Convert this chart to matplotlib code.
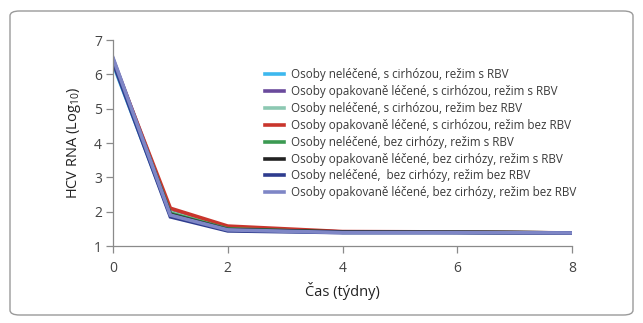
import matplotlib
matplotlib.use("Agg")
import matplotlib.pyplot as plt
from matplotlib.patches import FancyBboxPatch

weeks = [0, 1, 2, 4, 6, 8]

series_labels = [
    "Osoby neléčené, s cirhózou, režim s RBV",
    "Osoby opakovaně léčené, s cirhózou, režim s RBV",
    "Osoby neléčené, s cirhózou, režim bez RBV",
    "Osoby opakovaně léčené, s cirhózou, režim bez RBV",
    "Osoby neléčené, bez cirhózy, režim s RBV",
    "Osoby opakovaně léčené, bez cirhózy, režim s RBV",
    "Osoby neléčené,  bez cirhózy, režim bez RBV",
    "Osoby opakovaně léčené, bez cirhózy, režim bez RBV",
]

# mean log10 HCV RNA per week for each group
naive_cirr_rbv = [6.30, 1.90, 1.47, 1.40, 1.40, 1.38]
exp_cirr_rbv = [6.45, 2.00, 1.52, 1.41, 1.40, 1.38]
naive_cirr_norbv = [6.35, 1.98, 1.52, 1.40, 1.40, 1.38]
exp_cirr_norbv = [6.40, 2.10, 1.58, 1.42, 1.41, 1.38]
naive_nocirr_rbv = [6.38, 1.95, 1.50, 1.40, 1.40, 1.38]
exp_nocirr_rbv = [6.42, 1.92, 1.48, 1.41, 1.40, 1.38]
naive_nocirr_norbv = [6.35, 1.85, 1.44, 1.39, 1.39, 1.38]
exp_nocirr_norbv = [6.48, 1.90, 1.47, 1.39, 1.39, 1.38]

series_values = [naive_cirr_rbv, exp_cirr_rbv, naive_cirr_norbv, exp_cirr_norbv,
                 naive_nocirr_rbv, exp_nocirr_rbv, naive_nocirr_norbv, exp_nocirr_norbv]
colors = ["#3db8ee", "#6a4a9c", "#8cc8b2", "#c9352c",
          "#3b9a52", "#222222", "#2e3c8e", "#7e86c6"]

x_ticks = [0, 2, 4, 6, 8]
y_ticks = [1, 2, 3, 4, 5, 6, 7]

plt.rcParams['font.family'] = ['Open Sans', 'DejaVu Sans']
plt.rcParams['mathtext.fontset'] = 'custom'
plt.rcParams['mathtext.rm'] = 'Open Sans'

fig = plt.figure(figsize=(6.43, 3.23), dpi=100)

# rounded frame around the whole chart
frame = FancyBboxPatch((10 / 643, 8 / 323), 623 / 643, 304 / 323,
                       boxstyle="round,pad=0,rounding_size=0.015",
                       transform=fig.transFigure, fill=False,
                       edgecolor="#9a9a9a", linewidth=1.0)
fig.patches.append(frame)

ax = fig.add_axes([113 / 643, 1 - 246 / 323, (572 - 113) / 643, (246 - 40) / 323])

for vals, col, lab in zip(series_values, colors, series_labels):
    ax.plot(weeks, vals, color=col, linewidth=2.6, label=lab, solid_joinstyle="miter")

ax.set_xlim(0, 8)
ax.set_ylim(1, 7)
ax.set_xticks(x_ticks)
ax.set_yticks(y_ticks)

for side in ["top", "right"]:
    ax.spines[side].set_visible(False)
for side in ["left", "bottom"]:
    ax.spines[side].set_color("#8a8a8a")
    ax.spines[side].set_linewidth(0.9)
ax.tick_params(axis="both", colors="#8a8a8a", labelcolor="#444444",
               labelsize=10, length=5, width=0.9, direction="out")
ax.tick_params(axis="x", pad=6)
ax.tick_params(axis="y", pad=3)

ax.set_xlabel("Čas (týdny)", fontsize=10.5, color="#222222", labelpad=4)
ax.set_ylabel("HCV RNA (Log$_{\\mathrm{10}}$)", fontsize=10.5, color="#222222", labelpad=8)

leg = ax.legend(loc="upper left", bbox_to_anchor=(0.32, 0.885), frameon=False,
                fontsize=8.4, handlelength=1.7, handletextpad=0.6,
                labelspacing=0.33, borderaxespad=0)
for txt in leg.get_texts():
    txt.set_color("#3a3a3a")

fig.savefig("out.png", dpi=100)
